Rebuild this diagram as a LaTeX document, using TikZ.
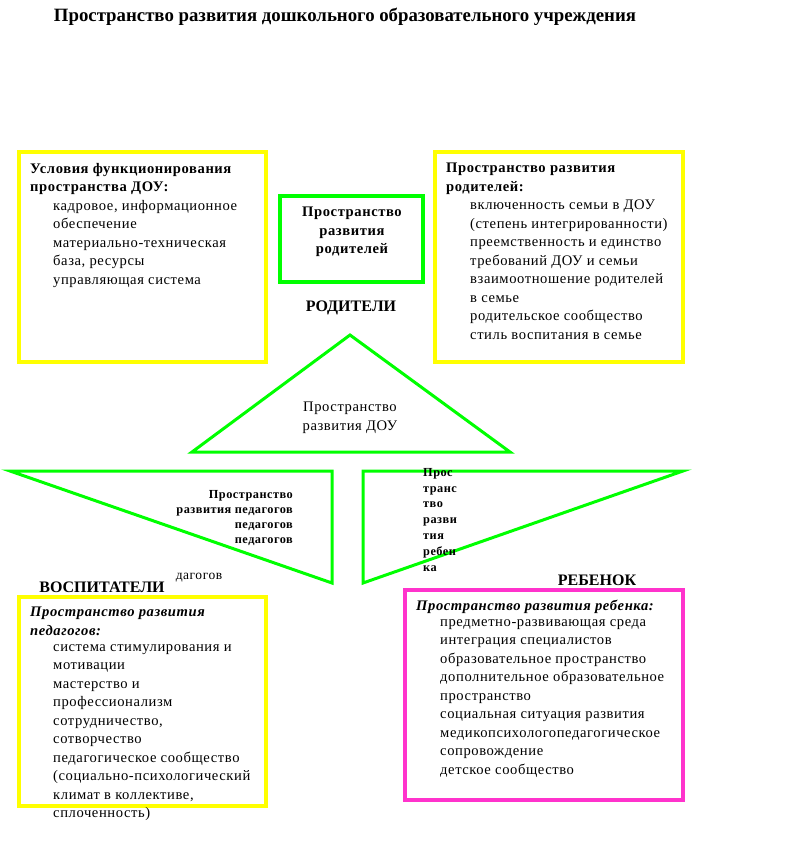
\documentclass[tikz,border=0pt]{standalone}
\usepackage{fontspec}
\setmainfont{Liberation Serif}
\newfontfamily\razr[LetterSpace=4]{Liberation Serif}
\definecolor{zheltyj}{RGB}{255,255,0}
\definecolor{zelenyj}{RGB}{0,255,0}
\definecolor{rozovyj}{RGB}{255,51,204}
\begin{document}
\begin{tikzpicture}[x=1pt,y=-1pt,
    ramka/.style={line width=4pt},
    treug/.style={draw=zelenyj,line width=3pt,line join=miter},
    zag/.style={inner sep=0pt,align=left,anchor=north west,font=\razr\bfseries\fontsize{14.6}{18.5}\selectfont},
    punkt/.style={inner sep=0pt,align=left,anchor=north west,font=\razr\fontsize{14.6}{18.5}\selectfont},
    malyj/.style={inner sep=0pt,font=\razr\bfseries\fontsize{12.3}{15}\selectfont},
    metka/.style={inner sep=0pt,font=\bfseries\fontsize{16}{18}\selectfont}]
    \useasboundingbox (0,0) rectangle (786,866);
    % title
    \node[inner sep=0pt,font=\bfseries\fontsize{18.8}{20}\selectfont] (title) at (345,17) {Пространство развития дошкольного образовательного учреждения};
    % frames
    \draw[ramka,zheltyj] (19,152) rectangle (266,362);
    \draw[ramka,zheltyj] (435,152) rectangle (683,362);
    \draw[ramka,zheltyj] (19,597) rectangle (266,806);
    \draw[ramka,rozovyj] (405,590) rectangle (683,800);
    \draw[ramka,zelenyj] (280,196) rectangle (423,282);
    % triangles
    \coordinate (A) at (350,335);\coordinate (B) at (192,452);\coordinate (C) at (510,452);
    \coordinate (D) at (10,471);\coordinate (E) at (332,471);\coordinate (F) at (332,583);
    \coordinate (G) at (363,471);\coordinate (H) at (683,471);\coordinate (K) at (363,583);
    \draw[treug] (A)--(B)--(C)--cycle;
    \draw[treug] (D)--(E)--(F)--cycle;
    \draw[treug] (G)--(H)--(K)--cycle;
    % texts
    \node[zag] (uslZag) at (30,163) {Условия функционирования\\пространства ДОУ:};
    \node[punkt] (uslPunkt) at (53,200) {кадровое, информационное\\обеспечение\\материально-техническая\\база, ресурсы\\управляющая система};
    \node[zag] (rodZag) at (446,163) {Пространство развития\\родителей:};
    \node[punkt] (rodPunkt) at (470,200) {включенность семьи в ДОУ\\(степень интегрированности)\\преемственность и единство\\требований ДОУ и семьи\\взаимоотношение родителей\\в семье\\родительское сообщество\\стиль воспитания в семье};
    \node[zag,align=center,anchor=center] (rodCentr) at (352,232) {Пространство\\развития\\родителей};
    \node[zag,font=\razr\bfseries\itshape\fontsize{14.6}{18.5}\selectfont] (pedZag) at (30,607) {Пространство развития\\педагогов:};
    \node[punkt] (pedPunkt) at (53,644) {система стимулирования и\\мотивации\\мастерство и\\профессионализм\\сотрудничество,\\сотворчество\\педагогическое сообщество\\(социально-психологический\\климат в коллективе,\\сплоченность)};
    \node[zag,font=\razr\bfseries\itshape\fontsize{14.6}{18.5}\selectfont] (rebZag) at (416,600) {Пространство развития ребенка:};
    \node[punkt] (rebPunkt) at (440,619) {предметно-развивающая среда\\интеграция специалистов\\образовательное пространство\\дополнительное образовательное\\пространство\\социальная ситуация развития\\медикопсихологопедагогическое\\сопровождение\\детское сообщество};
    \node[punkt,align=center,anchor=center] (dou) at (350,418) {Пространство\\развития ДОУ};
    \node[malyj,align=right,anchor=north east] (pedTr) at (293,490) {Пространство\\развития педагогов\\педагогов\\педагогов};
    \node[malyj,align=left,anchor=north west,font=\razr\bfseries\fontsize{12.3}{15.8}\selectfont] (rebTr) at (423,468) {Прос\\транс\\тво\\разви\\тия\\ребен\\ка};
    \node[punkt,font=\razr\fontsize{13.5}{15}\selectfont,anchor=center] (dagogov) at (199,578) {дагогов};
    \node[metka] (roditeli) at (351,308) {РОДИТЕЛИ};
    \node[metka] (vospit) at (102,587) {ВОСПИТАТЕЛИ};
    \node[metka] (rebenok) at (597,580) {РЕБЕНОК};
\end{tikzpicture}
\end{document}
